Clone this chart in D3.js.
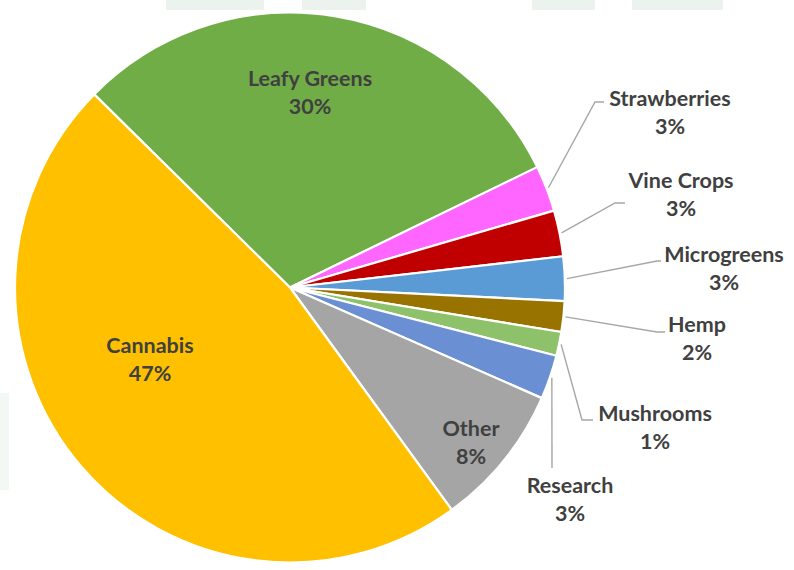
<!DOCTYPE html>
<html>
<head>
<meta charset="utf-8">
<script src="https://cdn.jsdelivr.net/npm/d3@7"></script>
<style>
  html, body { margin: 0; padding: 0; background: #ffffff; }
  svg { display: block; }
  .lbl { font-family: Lato, "Open Sans", sans-serif; font-weight: 700; fill: #404040; }
</style>
</head>
<body>
<svg id="chart" width="794" height="570"></svg>
<script>
// Share of grow operations by crop type (percent)
const categories = ["Leafy Greens", "Strawberries", "Vine Crops", "Microgreens", "Hemp",
                    "Mushrooms", "Research", "Other", "Cannabis"];
const shares = [30.4, 2.7, 2.7, 2.6, 1.8, 1.4, 2.6, 8.4, 47.4];
const colors = ["#70AD47", "#FF66FF", "#C00000", "#5B9BD5", "#997300",
                "#8DC26A", "#6A8FD3", "#A5A5A5", "#FFC000"];

// Label placement: inside labels have no leader; outside labels get an elbow line
const labelLayout = {
  "Leafy Greens": { x: 310, y: 78 },
  "Cannabis":     { x: 150, y: 345 },
  "Other":        { x: 471, y: 428 },
  "Strawberries": { x: 670, y: 98,  elbow: [595, 102], end: [604, 102] },
  "Vine Crops":   { x: 681, y: 180, elbow: [615, 203], end: [625, 203] },
  "Microgreens":  { x: 724, y: 254, elbow: [657, 261], end: [661, 261] },
  "Hemp":         { x: 697, y: 324, elbow: [657, 332], end: [665, 332] },
  "Mushrooms":    { x: 655, y: 413, elbow: [582, 420], end: [593, 420] },
  "Research":     { x: 570, y: 485, elbow: null,       end: [552, 468] }
};

const svg = d3.select("#chart");
const cx = 290, cy = 287.5, radius = 275;

// faint background decoration
const bg = svg.append("g").attr("fill", "#ecf3ef");
[[166, 98], [302, 64], [532, 63], [632, 91]].forEach(([x, w]) =>
  bg.append("rect").attr("x", x).attr("y", 0).attr("width", w).attr("height", 10));
bg.append("rect").attr("x", 0).attr("y", 393).attr("width", 9).attr("height", 97).attr("opacity", 0.6);

const data = categories.map((c, i) => ({ name: c, value: shares[i], color: colors[i] }));
const total = d3.sum(shares);

const start = -45.4 * Math.PI / 180;
const pie = d3.pie().sort(null).value(d => d.value)
  .startAngle(start).endAngle(start + 2 * Math.PI);
const arcs = pie(data);

const arc = d3.arc().innerRadius(0).outerRadius(radius);
const g = svg.append("g").attr("transform", `translate(${cx},${cy})`);

g.selectAll("path.slice").data(arcs).join("path")
  .attr("class", "slice")
  .attr("d", arc)
  .attr("fill", d => d.data.color)
  .attr("stroke", "#ffffff")
  .attr("stroke-width", 2.2)
  .attr("stroke-linejoin", "round");

// leader lines from the rim of each small slice
const rim = d3.arc().innerRadius(radius + 2).outerRadius(radius + 2);
arcs.forEach(d => {
  const L = labelLayout[d.data.name];
  if (!L.end) return;
  const [px, py] = rim.centroid(d);
  const pts = [[px + cx, py + cy]];
  if (L.elbow) pts.push(L.elbow);
  pts.push(L.end);
  svg.append("path")
    .attr("d", d3.line()(pts))
    .attr("fill", "none")
    .attr("stroke", "#A6A6A6")
    .attr("stroke-width", 1.4);
});

// data labels: category name and rounded percentage
const fmt = v => Math.round(v / total * 100) + "%";
arcs.forEach(d => {
  const L = labelLayout[d.data.name];
  const t = svg.append("text").attr("class", "lbl")
    .attr("text-anchor", "middle")
    .attr("font-size", 21.5);
  t.append("tspan").attr("x", L.x).attr("y", L.y).attr("dy", "0.35em").text(d.data.name);
  t.append("tspan").attr("x", L.x).attr("y", L.y + 28).attr("dy", "0.35em").text(fmt(d.data.value));
});
</script>
</body>
</html>
